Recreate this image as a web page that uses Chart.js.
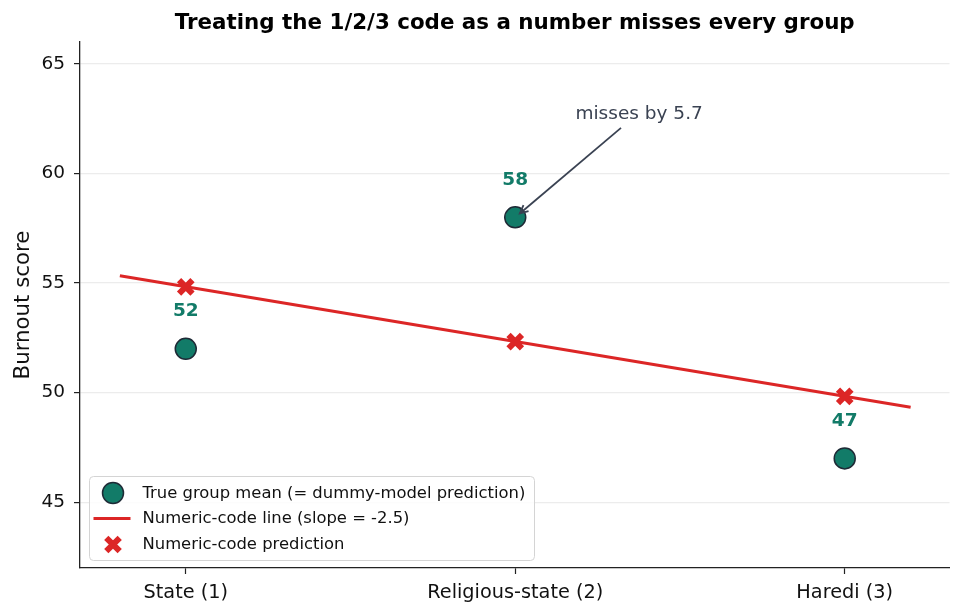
<!DOCTYPE html>
<html>
<head>
<meta charset="utf-8">
<script src="https://cdn.jsdelivr.net/npm/chart.js@4.4.1/dist/chart.umd.min.js"></script>
<style>
  html, body { margin: 0; padding: 0; background: #ffffff; }
  #wrap { width: 965px; height: 615px; }
</style>
</head>
<body>
<div id="wrap"><canvas id="c" width="965" height="615"></canvas></div>
<script>
// ---- data ----
const categories = ['State (1)', 'Religious-state (2)', 'Haredi (3)'];
const codes = [1, 2, 3];
const groupMeans = [52, 58, 47];
const numericPred = [54.83, 52.33, 49.83];
const lineX = [0.8, 3.2];
const lineY = [55.33, 49.33];
const yTicks = [45, 50, 55, 60, 65];
const titleText = 'Treating the 1/2/3 code as a number misses every group';
const yTitle = 'Burnout score';
const annotationText = 'misses by 5.7';
const legendLabels = ['True group mean (= dummy-model prediction)', 'Numeric-code line (slope = -2.5)', 'Numeric-code prediction'];

const TEAL = '#127b68';
const EDGE = '#1e2a36';
const RED = '#dc2626';
const SLATE = '#3a4252';
const FONT = "'DejaVu Sans', sans-serif";

function drawX(ctx, cx, cy, r, lw, color) {
  ctx.save();
  ctx.strokeStyle = color;
  ctx.lineWidth = lw;
  ctx.lineCap = 'butt';
  const d = r * Math.SQRT1_2;
  ctx.beginPath();
  ctx.moveTo(cx - d, cy - d); ctx.lineTo(cx + d, cy + d);
  ctx.moveTo(cx - d, cy + d); ctx.lineTo(cx + d, cy - d);
  ctx.stroke();
  ctx.restore();
}

const overlay = {
  id: 'overlay',
  afterDatasetsDraw(chart) {
    const { ctx, scales: { x, y } } = chart;
    ctx.save();
    // value labels
    ctx.font = 'bold 18.5px ' + FONT;
    ctx.fillStyle = TEAL;
    ctx.textAlign = 'center';
    ctx.textBaseline = 'middle';
    codes.forEach((c, i) => {
      ctx.fillText(String(groupMeans[i]), x.getPixelForValue(c), y.getPixelForValue(groupMeans[i]) - 37.5);
    });
    // annotation
    ctx.font = '18.5px ' + FONT;
    ctx.fillStyle = SLATE;
    ctx.fillText(annotationText, x.getPixelForValue(2.376), y.getPixelForValue(62.72));
    const sx = x.getPixelForValue(2.321), sy = y.getPixelForValue(62.08);
    const px = x.getPixelForValue(codes[1]), py = y.getPixelForValue(groupMeans[1]);
    const ang = Math.atan2(py - sy, px - sx);
    const ex = px - Math.cos(ang) * 6, ey = py - Math.sin(ang) * 6;
    ctx.strokeStyle = SLATE;
    ctx.lineWidth = 1.8;
    ctx.beginPath();
    ctx.moveTo(sx, sy); ctx.lineTo(ex, ey);
    ctx.stroke();
    const hl = 9, ha = 0.45;
    ctx.beginPath();
    ctx.moveTo(ex - hl * Math.cos(ang - ha), ey - hl * Math.sin(ang - ha));
    ctx.lineTo(ex, ey);
    ctx.lineTo(ex - hl * Math.cos(ang + ha), ey - hl * Math.sin(ang + ha));
    ctx.stroke();
    ctx.restore();
  },
  afterDraw(chart) {
    const { ctx, chartArea: ca } = chart;
    ctx.save();
    // title
    ctx.font = 'bold 21.4px ' + FONT;
    ctx.fillStyle = '#000';
    ctx.textAlign = 'center';
    ctx.textBaseline = 'middle';
    ctx.fillText(titleText, (ca.left + ca.right) / 2, 23.5);
    // legend
    const lx = ca.left + 9.5, ly = ca.bottom - 91.5, lw = 445, lh = 84;
    ctx.beginPath();
    ctx.roundRect(lx, ly, lw, lh, 4);
    ctx.fillStyle = 'rgba(255,255,255,0.85)';
    ctx.fill();
    ctx.strokeStyle = '#d4d4d4';
    ctx.lineWidth = 1;
    ctx.stroke();
    const mx = lx + 23.5;
    const rows = [ly + 16.5, ly + 42, ly + 68];
    // row 1 circle
    ctx.beginPath();
    ctx.arc(mx, rows[0], 10.5, 0, Math.PI * 2);
    ctx.fillStyle = TEAL; ctx.fill();
    ctx.strokeStyle = EDGE; ctx.lineWidth = 1.5; ctx.stroke();
    // row 2 line
    ctx.beginPath();
    ctx.moveTo(lx + 4, rows[1]); ctx.lineTo(lx + 41, rows[1]);
    ctx.strokeStyle = RED; ctx.lineWidth = 3; ctx.stroke();
    // row 3 X
    drawX(ctx, mx, rows[2], 9.5, 6, RED);
    ctx.font = '16.4px ' + FONT;
    ctx.fillStyle = '#111';
    ctx.textAlign = 'left';
    legendLabels.forEach((t, i) => ctx.fillText(t, lx + 53, rows[i] + 0.5));
    ctx.restore();
  }
};

new Chart(document.getElementById('c'), {
  type: 'scatter',
  data: {
    datasets: [
      {
        label: legendLabels[0],
        data: codes.map((c, i) => ({ x: c, y: groupMeans[i] })),
        pointRadius: 10.5,
        pointHoverRadius: 10.5,
        pointBackgroundColor: TEAL,
        pointBorderColor: EDGE,
        pointBorderWidth: 1.5,
        showLine: false
      },
      {
        label: legendLabels[2],
        data: codes.map((c, i) => ({ x: c, y: numericPred[i] })),
        pointStyle: 'crossRot',
        pointRadius: 9.5,
        pointHoverRadius: 9.5,
        pointBorderColor: RED,
        pointBackgroundColor: RED,
        pointBorderWidth: 6,
        showLine: false
      },
      {
        label: legendLabels[1],
        data: lineX.map((v, i) => ({ x: v, y: lineY[i] })),
        showLine: true,
        borderColor: RED,
        borderWidth: 3,
        pointRadius: 0,
        pointHoverRadius: 0,
        fill: false
      }
    ]
  },
  options: {
    responsive: false,
    animation: false,
    devicePixelRatio: 1,
    layout: { padding: { top: 42, right: 13, left: 0, bottom: 0 } },
    plugins: { legend: { display: false }, title: { display: false }, tooltip: { enabled: false } },
    scales: {
      x: {
        type: 'linear',
        min: 0.679,
        max: 3.318,
        afterBuildTicks: s => { s.ticks = codes.map(v => ({ value: v })); },
        afterFit: s => { s.height = 47; },
        ticks: {
          callback: v => categories[codes.indexOf(v)],
          font: { family: FONT, size: 19.3 },
          color: '#111',
          padding: 7,
          maxRotation: 0,
          autoSkip: false
        },
        grid: { drawOnChartArea: false, tickColor: '#222', tickLength: 6, tickWidth: 1.2 },
        border: { display: true, color: '#222', width: 1.3 }
      },
      y: {
        min: 42,
        max: 66,
        afterBuildTicks: s => { s.ticks = yTicks.map(v => ({ value: v })); },
        afterFit: s => { s.width = 80; },
        ticks: {
          font: { family: FONT, size: 18.5 },
          color: '#111',
          padding: 9
        },
        grid: { color: '#ececec', lineWidth: 1.2, tickColor: '#222', tickLength: 6, tickWidth: 1.2 },
        border: { display: true, color: '#222', width: 1.3 },
        title: { display: true, text: yTitle, font: { family: FONT, size: 21.3 }, color: '#111', padding: { top: 11, bottom: 0 } }
      }
    }
  },
  plugins: [overlay]
});
</script>
</body>
</html>
